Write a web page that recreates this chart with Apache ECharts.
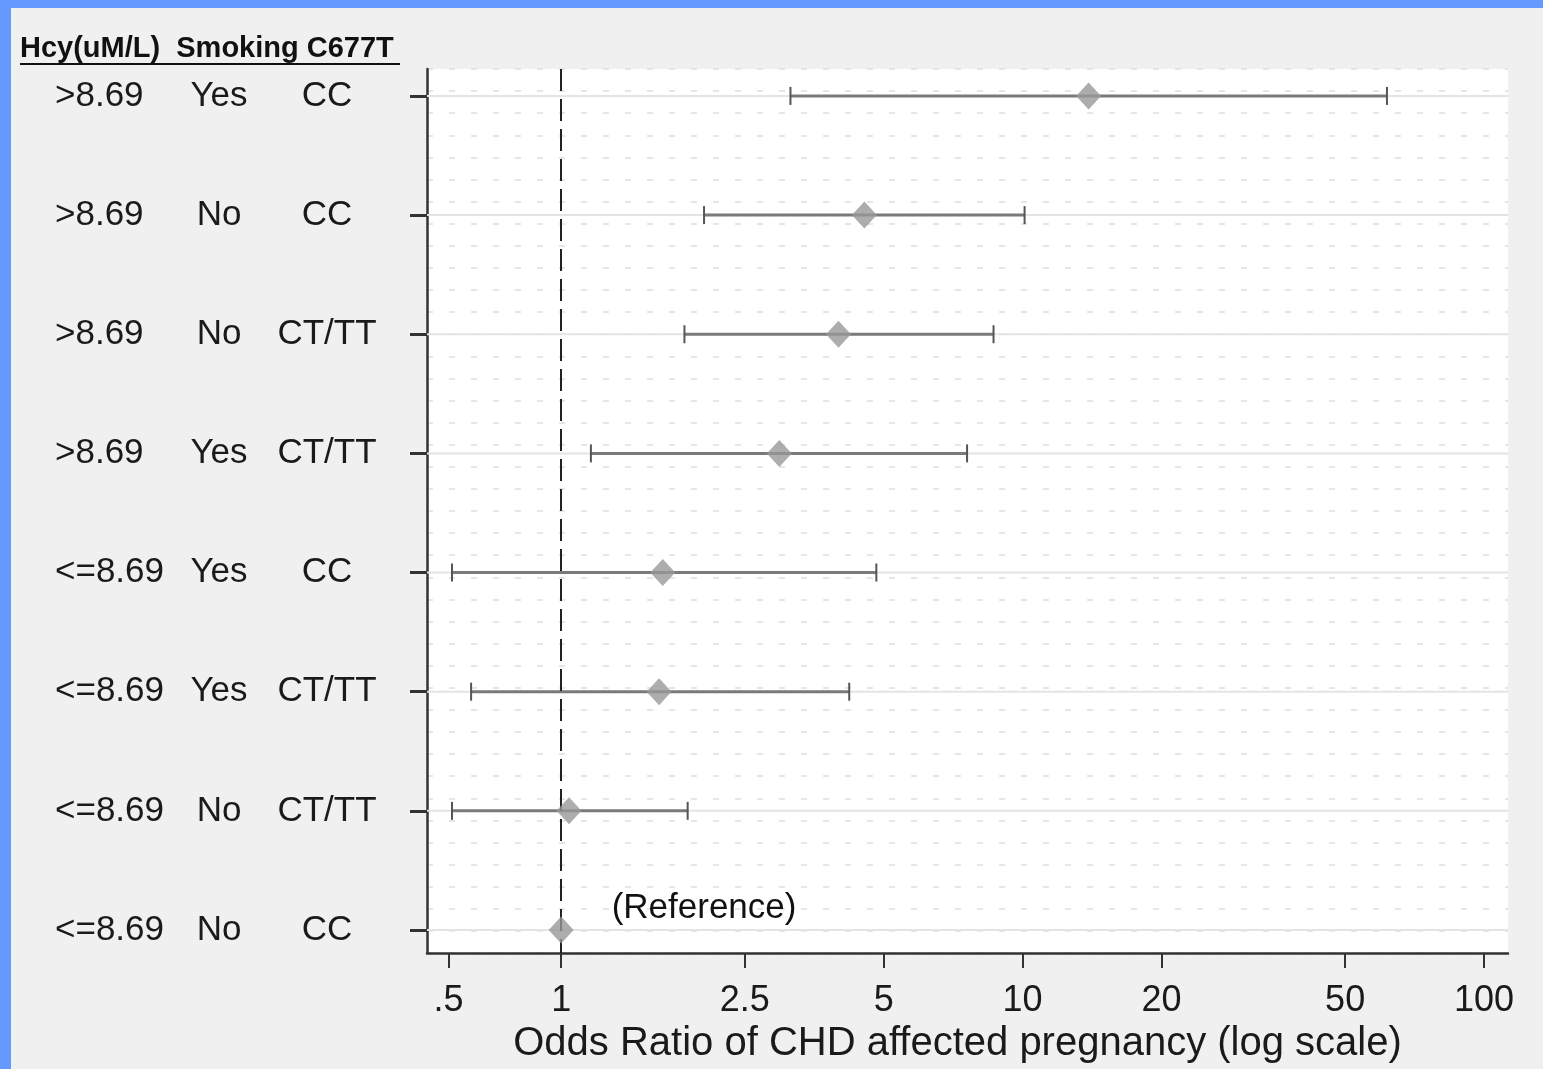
<!DOCTYPE html>
<html>
<head>
<meta charset="utf-8">
<script src="https://cdn.jsdelivr.net/npm/echarts@6/dist/echarts.min.js"></script>
<style>
html,body{margin:0;padding:0;background:#f0f0f0;}
#chart{width:1543px;height:1069px;}
</style>
</head>
<body>
<div id="chart"></div>
<script>
// ---- data ----
const hcy      = ['>8.69', '>8.69', '>8.69', '>8.69', '<=8.69', '<=8.69', '<=8.69', '<=8.69'];
const smoking  = ['Yes', 'No', 'No', 'Yes', 'Yes', 'Yes', 'No', 'No'];
const genotype = ['CC', 'CC', 'CT/TT', 'CT/TT', 'CC', 'CT/TT', 'CT/TT', 'CC'];
const oddsRatio = [13.9, 4.54, 3.99, 2.97, 1.66, 1.63, 1.04, 1];
const ciLower   = [3.14, 2.04, 1.85, 1.16, 0.58, 0.638, 0.58, null];
const ciUpper   = [61.6, 10.1, 8.65, 7.58, 4.82, 4.21, 1.88, null];
const xTickValues = [0.57, 1, 2.5, 5, 10, 20, 50, 100];
const xTickLabels = ['.5', '1', '2.5', '5', '10', '20', '50', '100'];
const headerText = 'Hcy(uM/L)  Smoking C677T';
const referenceText = '(Reference)';
const xTitle = 'Odds Ratio of CHD affected pregnancy (log scale)';

const FONT = "'Liberation Sans', Arial, sans-serif";
const rows = hcy.map((_, i) => i);

const chart = echarts.init(document.getElementById('chart'), null, {renderer: 'canvas'});

const ciData = rows.map(i => [i, ciLower[i] == null ? NaN : ciLower[i], ciUpper[i] == null ? NaN : ciUpper[i]]);
const pointData = rows.filter(i => i < rows.length - 1).map(i => [oddsRatio[i], i]);
const refRow = rows.length - 1;

const option = {
  backgroundColor: '#f0f0f0',
  animation: false,
  graphic: [
    {type: 'rect', left: 0, top: 0, shape: {width: 1543, height: 8}, style: {fill: '#6699ff'}, z: 100},
    {type: 'rect', left: 0, top: 0, shape: {width: 11, height: 1069}, style: {fill: '#6699ff'}, z: 100},
    {type: 'text', left: 20, top: 34, style: {text: headerText, font: "bold 29px " + FONT, fill: '#111'}},
    {type: 'line', shape: {x1: 20, y1: 64, x2: 400, y2: 64}, style: {stroke: '#111', lineWidth: 2}}
  ],
  grid: {left: 427, right: 35, top: 69, bottom: 116, show: true, backgroundColor: '#ffffff', borderWidth: 0},
  xAxis: {
    type: 'log', logBase: 10, min: 0.512, max: 112.7,
    name: xTitle, nameLocation: 'middle', nameGap: 66,
    nameTextStyle: {fontFamily: FONT, fontSize: 40, color: '#1a1a1a', padding: [0, 20, 0, 0]},
    axisLine: {onZero: false, lineStyle: {color: '#333', width: 2.5}},
    axisTick: {customValues: xTickValues, length: 15, lineStyle: {color: '#333', width: 2}},
    axisLabel: {
      customValues: xTickValues, margin: 30,
      fontFamily: FONT, fontSize: 36, color: '#1a1a1a',
      formatter: function (v) {
        let best = 0, bd = Infinity;
        xTickValues.forEach((t, k) => { const d = Math.abs(Math.log(t) - Math.log(v)); if (d < bd) { bd = d; best = k; } });
        return xTickLabels[best];
      }
    },
    splitLine: {show: false}, minorTick: {show: false}
  },
  yAxis: [
    {
      type: 'value', inverse: true, min: -0.226, max: 7.193,
      axisLine: {show: true, onZero: false, lineStyle: {color: '#333', width: 2.5}},
      axisTick: {customValues: rows, length: 17, lineStyle: {color: '#333', width: 3}},
      axisLabel: {
        customValues: rows, margin: 28,
        formatter: function (v) {
          const i = Math.round(v);
          return '{a|' + hcy[i] + '}{b|' + smoking[i] + '}{c|' + genotype[i] + '}';
        },
        rich: {
          a: {width: 128, align: 'left', fontFamily: FONT, fontSize: 35, color: '#1a1a1a'},
          b: {width: 72, align: 'center', fontFamily: FONT, fontSize: 35, color: '#1a1a1a'},
          c: {width: 144, align: 'center', fontFamily: FONT, fontSize: 35, color: '#1a1a1a'}
        }
      },
      splitLine: {show: false}
    },
    {
      type: 'value', min: 0, max: 40, interval: 1, position: 'right',
      axisLine: {show: false}, axisTick: {show: false}, axisLabel: {show: false},
      splitLine: {show: true, lineStyle: {color: '#dedede', width: 1.5, type: [6, 16]}}
    }
  ],
  series: [
    {
      type: 'custom', name: 'CI', z: 2,
      data: ciData,
      encode: {x: [1, 2], y: 0},
      renderItem: function (params, api) {
        const row = api.value(0), lo = api.value(1), hi = api.value(2);
        const cs = params.coordSys;
        const y = api.coord([1, row])[1];
        const children = [{
          type: 'line', shape: {x1: cs.x, y1: y, x2: cs.x + cs.width, y2: y},
          style: {stroke: '#e4e4e4', lineWidth: 2}
        }];
        if (isFinite(lo) && isFinite(hi)) {
          const x1 = api.coord([lo, row])[0];
          const x2 = api.coord([hi, row])[0];
          children.push({type: 'line', shape: {x1: x1, y1: y, x2: x2, y2: y}, style: {stroke: '#7a7a7a', lineWidth: 3}});
          children.push({type: 'line', shape: {x1: x1, y1: y - 9, x2: x1, y2: y + 9}, style: {stroke: '#555', lineWidth: 2}});
          children.push({type: 'line', shape: {x1: x2, y1: y - 9, x2: x2, y2: y + 9}, style: {stroke: '#555', lineWidth: 2}});
        }
        return {type: 'group', children: children};
      }
    },
    {
      type: 'scatter', name: 'OR', z: 4,
      symbol: 'diamond', symbolSize: [25, 27],
      itemStyle: {color: '#999999'},
      data: pointData,
      markLine: {
        silent: true, symbol: 'none', z: 3,
        label: {show: false},
        lineStyle: {color: '#222', width: 2, type: [22, 8]},
        data: [{xAxis: 1}]
      }
    },
    {
      type: 'scatter', name: 'Reference', z: 4,
      symbol: 'diamond', symbolSize: [25, 27],
      itemStyle: {color: '#999999'},
      data: [[oddsRatio[refRow], refRow]],
      label: {
        show: true, position: 'right', distance: 38, offset: [0, -22],
        formatter: referenceText,
        fontFamily: FONT, fontSize: 35, color: '#111', opacity: 1
      }
    }
  ]
};
chart.setOption(option);
</script>
</body>
</html>
